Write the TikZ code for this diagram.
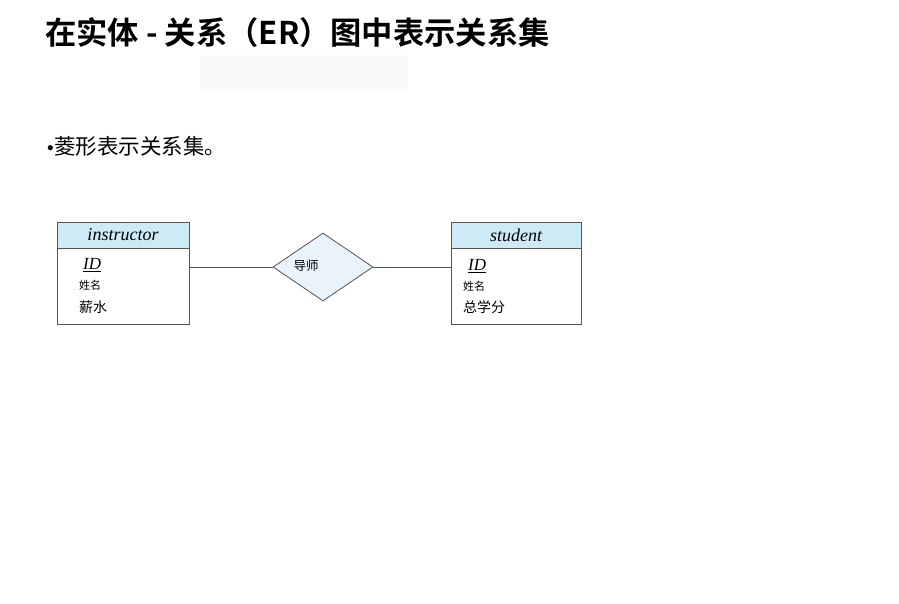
\documentclass[tikz,border=0pt]{standalone}
\usepackage{fontspec}
\setmainfont{Liberation Serif}
\newfontfamily\cjk{Noto Sans CJK SC}
\newfontfamily\cjkbold{Noto Sans CJK SC Bold}
\newfontfamily\sans{Liberation Sans}
\usetikzlibrary{shapes.geometric}
\definecolor{hdrblue}{HTML}{CDEBF7}
\definecolor{relblue}{HTML}{E8F3FB}
\definecolor{edge}{HTML}{555555}
\tikzset{
  entbox/.style={draw=edge, line width=0.8pt, fill=white},
  enthdr/.style={draw=edge, line width=0.8pt, fill=hdrblue},
  entname/.style={font=\itshape\fontsize{18}{18}\selectfont, inner sep=0pt},
  attrid/.style={font=\itshape\fontsize{17}{17}\selectfont, inner sep=0pt, anchor=west},
  attrsmall/.style={font=\cjk\fontsize{11}{11}\selectfont, inner sep=0pt, anchor=west},
  attrbig/.style={font=\cjk\fontsize{14}{14}\selectfont, inner sep=0pt, anchor=west},
  relshape/.style={diamond, draw=edge, line width=0.8pt, fill=relblue, minimum width=100pt, minimum height=68pt, inner sep=0pt, aspect=1.47},
  link/.style={draw=edge, line width=0.8pt}
}
\begin{document}
\begin{tikzpicture}[x=1pt,y=-1pt]
\useasboundingbox (0,0) rectangle (899,603);
\fill[white] (0,0) rectangle (899,603);

% heading
\node[font=\cjkbold\fontsize{31.3}{33}\selectfont, anchor=west, inner sep=0pt] (title) at (45,33) {在实体 - 关系（ER）图中表示关系集};
\fill[black!2] (200,55) rectangle (408,92);

% bullet line
\node[font=\cjk\fontsize{21.5}{22}\selectfont, anchor=west, inner sep=0pt] (bullet) at (47,146) {{\sans\fontsize{19}{19}\selectfont\textbullet}\kern0.5pt 菱形表示关系集。};

% entity: instructor
\draw[entbox] (57,248) rectangle (189,324);
\draw[enthdr] (57,222) rectangle (189,248);
\node[entname] (instr) at (123,235) {instructor};
\coordinate (instrR) at (189,267);
\node[attrid] (iid) at (83,265) {\underline{ID}};
\node[attrsmall] (iname) at (79,285) {姓名};
\node[attrbig] (isal) at (79,307) {薪水};

% entity: student
\draw[entbox] (451,248) rectangle (581,324);
\draw[enthdr] (451,222) rectangle (581,248);
\node[entname] (stud) at (516,235) {student};
\coordinate (studL) at (451,267);
\node[attrid] (sid) at (468,266) {\underline{ID}};
\node[attrsmall] (sname) at (463,286) {姓名};
\node[attrbig] (scred) at (463,307) {总学分};

% relationship
\node[relshape] (adv) at (323,267) {};
\node[font=\cjk\fontsize{12.5}{13}\selectfont, inner sep=0pt] (advlbl) at (306,266) {导师};

\draw[link] (instrR) -- (adv.west);
\draw[link] (adv.east) -- (studL);
\end{tikzpicture}
\end{document}
